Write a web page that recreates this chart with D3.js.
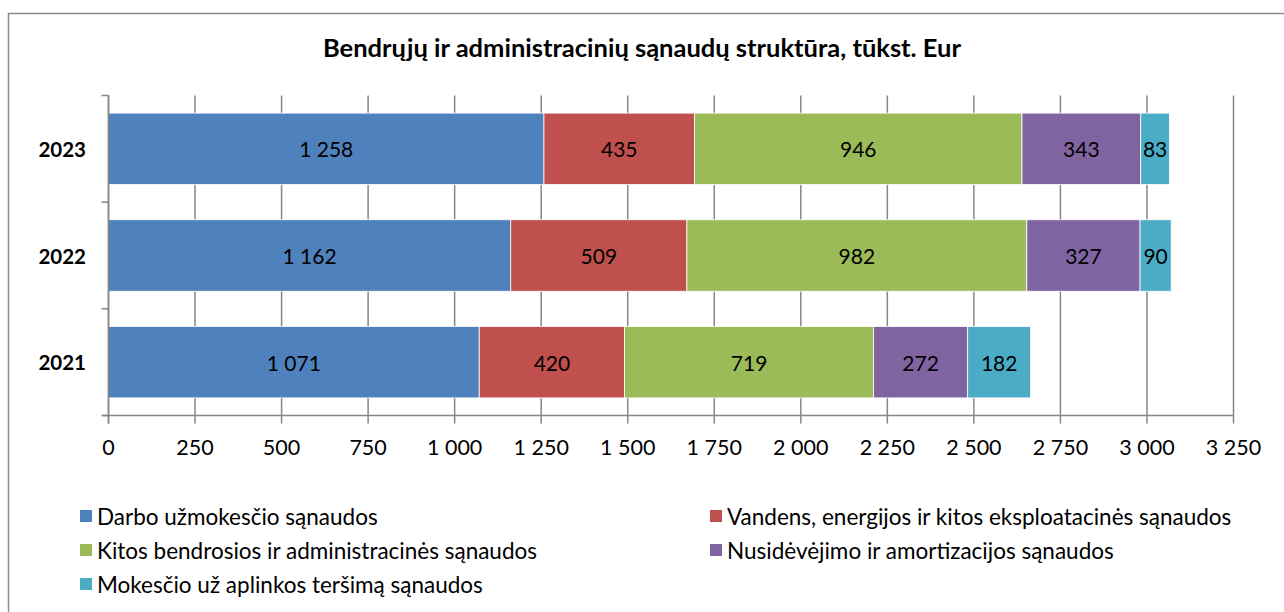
<!DOCTYPE html>
<html>
<head>
<meta charset="utf-8">
<script src="https://cdn.jsdelivr.net/npm/d3@7"></script>
<style>
  body { margin: 0; background: #fff; }
  svg { display: block; font-family: Lato, "Open Sans", sans-serif; }
</style>
</head>
<body>
<svg id="chart" width="1284" height="612"></svg>
<script>
let years = ["2023", "2022", "2021"]
let series = [
    "Darbo užmokesčio sąnaudos",
    "Vandens, energijos ir kitos eksploatacinės sąnaudos",
    "Kitos bendrosios ir administracinės sąnaudos",
    "Nusidėvėjimo ir amortizacijos sąnaudos",
    "Mokesčio už aplinkos teršimą sąnaudos"
]
let darbo = [1258, 1162, 1071]
let vandens = [435, 509, 420]
let kitos = [946, 982, 719]
let nusidevejimo = [343, 327, 272]
let mokescio = [83, 90, 182]
let colors = ["#4F81BD", "#C0504D", "#9BBB59", "#8064A2", "#4BACC6"]
let xTicks = [0, 250, 500, 750, 1000, 1250, 1500, 1750, 2000, 2250, 2500, 2750, 3000, 3250]

let rows = years.map((y, i) => ({
    year: y,
    values: [darbo[i], vandens[i], kitos[i], nusidevejimo[i], mokescio[i]]
}))

let svg = d3.select('#chart')
let fmt = v => d3.format(",")(v).replace(/,/g, " ")

// outer frame (runs off right and bottom edges)
svg.append('rect')
    .attr('x', 8.5).attr('y', 13.5)
    .attr('width', 1300).attr('height', 620)
    .attr('fill', 'none').attr('stroke', '#8c8c8c').attr('stroke-width', 1.5)

svg.append('text')
    .attr('x', 642).attr('y', 47)
    .attr('text-anchor', 'middle')
    .attr('dominant-baseline', 'central')
    .attr('font-weight', 'bold').attr('font-size', 25.5)
    .text("Bendrųjų ir administracinių sąnaudų struktūra, tūkst. Eur")

let plotLeft = 108.5, plotRight = 1233.5, plotTop = 95.5, plotBottom = 415.5

let x = d3.scaleLinear().domain([0, 3250]).range([plotLeft, plotRight])
let y = d3.scaleBand().domain(years).range([plotTop, plotBottom]).paddingInner(0.33).paddingOuter(0.165)
let yBounds = d3.scaleLinear().domain([0, years.length]).range([plotTop, plotBottom])

// vertical gridlines
svg.append('g').selectAll('line')
    .data(xTicks)
    .join('line')
        .attr('x1', d => x(d)).attr('x2', d => x(d))
        .attr('y1', plotTop).attr('y2', plotBottom + 8)
        .attr('stroke', '#868686').attr('stroke-width', 1.5)

// stacked bars
let stackData = rows.map(r => {
    let acc = 0
    return r.values.map((v, k) => {
        let seg = {year: r.year, k: k, v: v, x0: acc, x1: acc + v}
        acc += v
        return seg
    })
}).flat()

svg.append('g').selectAll('rect')
    .data(stackData)
    .join('rect')
        .attr('x', d => x(d.x0))
        .attr('y', d => y(d.year))
        .attr('width', d => x(d.x1) - x(d.x0))
        .attr('height', y.bandwidth())
        .attr('fill', d => colors[d.k])
        .attr('stroke', '#ffffff').attr('stroke-width', 0.8)

svg.append('g').selectAll('text')
    .data(stackData)
    .join('text')
        .attr('x', d => (x(d.x0) + x(d.x1)) / 2)
        .attr('y', d => y(d.year) + y.bandwidth() / 2)
        .attr('text-anchor', 'middle')
        .attr('dominant-baseline', 'central')
        .attr('font-size', 21)
        .attr('fill', '#000')
        .text(d => fmt(d.v))

// x axis line
svg.append('line')
    .attr('x1', plotLeft - 6).attr('x2', plotRight)
    .attr('y1', plotBottom).attr('y2', plotBottom)
    .attr('stroke', '#868686').attr('stroke-width', 1.5)

// y axis line and ticks
svg.append('line')
    .attr('x1', plotLeft).attr('x2', plotLeft)
    .attr('y1', plotTop).attr('y2', plotBottom + 8)
    .attr('stroke', '#868686').attr('stroke-width', 1.5)

svg.append('g').selectAll('line')
    .data(d3.range(years.length + 1))
    .join('line')
        .attr('x1', plotLeft - 7).attr('x2', plotLeft)
        .attr('y1', d => yBounds(d)).attr('y2', d => yBounds(d))
        .attr('stroke', '#868686').attr('stroke-width', 1.5)

// x tick labels
svg.append('g').selectAll('text')
    .data(xTicks)
    .join('text')
        .attr('x', d => x(d))
        .attr('y', 447)
        .attr('text-anchor', 'middle')
        .attr('dominant-baseline', 'central')
        .attr('font-size', 21.5)
        .text(d => fmt(d))

// y category labels
svg.append('g').selectAll('text')
    .data(years)
    .join('text')
        .attr('x', 86)
        .attr('y', d => y(d) + y.bandwidth() / 2)
        .attr('text-anchor', 'end')
        .attr('dominant-baseline', 'central')
        .attr('font-weight', 'bold').attr('font-size', 20.5)
        .text(d => d)

// legend
let legendPos = [[80, 516], [710, 516], [80, 550], [710, 550], [80, 584]]
let legend = svg.append('g').selectAll('g')
    .data(series)
    .join('g')
        .attr('transform', (d, i) => `translate(${legendPos[i][0]},${legendPos[i][1]})`)

legend.append('rect')
    .attr('x', 0).attr('y', -6)
    .attr('width', 12).attr('height', 12)
    .attr('fill', (d, i) => colors[i])

legend.append('text')
    .attr('x', 17).attr('y', 0)
    .attr('dominant-baseline', 'central')
    .attr('font-size', 22.5)
    .text(d => d)
</script>
</body>
</html>
